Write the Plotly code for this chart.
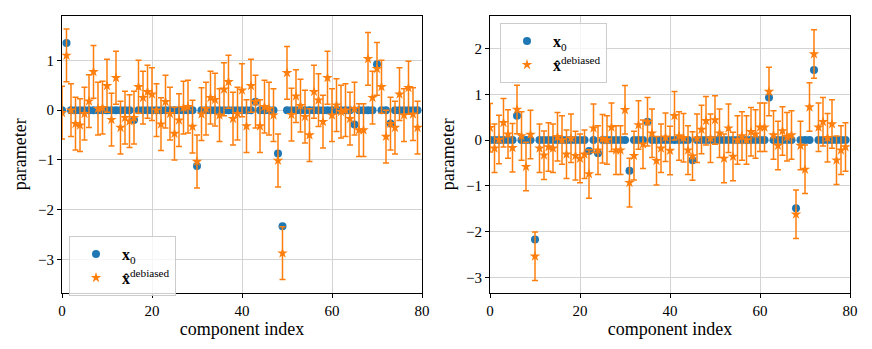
import plotly.graph_objects as go
from plotly.subplots import make_subplots

BLUE = "#1f77b4"
ORANGE = "#ff7f0e"
FONT = "Liberation Serif"

INDEX = list(range(80))

# left panel: true signal (sparse) and debiased estimates
LEFT_X0 = [0.0] * 80
for i, v in {1: 1.35, 16: -0.2, 30: -1.12, 43: 0.17, 48: -0.87, 49: -2.33,
             65: -0.29, 70: 0.92, 73: -0.27}.items():
    LEFT_X0[i] = v

LEFT_DEBIASED = [
    -0.05, 1.1, 0.0, -0.27, -0.3, -0.07, 0.18, 0.77, 0.03, 0.05,
    0.49, -0.19, 0.65, -0.35, -0.15, -0.22, -0.15, 0.47, 0.25, 0.37,
    0.32, 0.0, -0.28, 0.17, -0.07, -0.47, -0.2, 0.05, 0.07, -0.33,
    -1.03, -0.08, 0.03, 0.25, 0.21, -0.1, 0.42, 0.57, -0.17, -0.07,
    0.4, -0.32, 0.49, 0.17, -0.32, 0.07, 0.03, -0.1, -1.01, -2.87,
    0.75, -0.09, 0.28, 0.09, -0.13, -0.5, 0.37, 0.2, -0.23, 0.65,
    -0.1, 0.1, -0.03, 0.0, -0.17, 0.03, -0.4, -0.4, 1.03, 0.25,
    0.83, 0.47, -0.53, -0.27, -0.35, 0.32, -0.1, 0.45, -0.08, -0.35,
]
LEFT_HALF_WIDTH = 0.53

# right panel
RIGHT_X0 = [0.0] * 80
for i, v in {6: 0.53, 10: -2.17, 22: -0.24, 24: -0.29, 31: -0.67, 35: 0.4,
             45: -0.44, 62: 0.93, 68: -1.49, 72: 1.53}.items():
    RIGHT_X0[i] = v

RIGHT_DEBIASED = [
    0.27, -0.18, 0.01, 0.38, 0.13, -0.17, 0.67, 0.09, -0.58, 0.12,
    -2.54, -0.18, -0.33, -0.15, -0.18, 0.07, 0.0, -0.31, 0.04, -0.34,
    -0.4, -0.31, -0.74, 0.26, -0.22, 0.03, 0.0, 0.28, -0.22, -0.22,
    0.66, -0.93, -0.34, 0.33, -0.09, 0.4, 0.15, -0.45, -0.18, 0.06,
    -0.23, 0.53, 0.09, 0.05, -0.22, -0.35, 0.04, 0.23, 0.42, 0.04,
    0.44, 0.15, -0.4, 0.26, -0.36, 0.0, 0.09, 0.0, 0.18, 0.13,
    0.28, 0.28, 1.06, 0.11, -0.12, 0.2, 0.07, 0.11, -1.62, -0.12,
    -0.64, 0.72, 1.88, 0.28, 0.4, 0.05, 0.35, -0.44, -0.22, -0.15,
]
RIGHT_HALF_WIDTH = 0.53

X_TICKS = [0, 20, 40, 60, 80]
LEFT_Y_TICKS = [-3, -2, -1, 0, 1]
RIGHT_Y_TICKS = [-3, -2, -1, 0, 1, 2]

X0_NAME = "<b>x</b><sub>0</sub>"
DEB_NAME = "<b>x̂</b><sup>debiased</sup>"

# the page body has an 8px margin, so the figure is sized to fit the window
W, H, OFF = 864, 341, 8


def fx(px):
    return (px - OFF) / W


def fy(py):
    return 1 - (py - OFF) / H


fig = make_subplots(rows=1, cols=2)

panels = [
    (1, LEFT_X0, LEFT_DEBIASED, LEFT_HALF_WIDTH, "legend"),
    (2, RIGHT_X0, RIGHT_DEBIASED, RIGHT_HALF_WIDTH, "legend2"),
]
for col, x0, deb, hw, leg in panels:
    fig.add_scatter(
        x=INDEX, y=x0, mode="markers", name=X0_NAME, legend=leg,
        marker={"color": BLUE, "size": 8, "symbol": "circle"},
        row=1, col=col,
    )
    fig.add_scatter(
        x=INDEX, y=deb, mode="markers", name=DEB_NAME, legend=leg,
        marker={"color": ORANGE, "size": 8, "symbol": "star"},
        error_y={"type": "constant", "value": hw, "color": ORANGE,
                 "thickness": 1.5, "width": 3},
        row=1, col=col,
    )

axis_style = dict(
    showline=True, linecolor="black", linewidth=1, mirror=True,
    showgrid=True, gridcolor="#d3d3d3", gridwidth=1, zeroline=False,
    ticks="outside", ticklen=4, tickcolor="black", automargin=False,
    tickfont={"family": FONT, "size": 15, "color": "black"},
)

fig.update_xaxes(**axis_style, range=[0, 80], tickvals=X_TICKS,
                 title={"text": "component index", "standoff": 4,
                        "font": {"family": FONT, "size": 18, "color": "black"}})
fig.update_yaxes(**axis_style,
                 title={"text": "parameter", "standoff": 6,
                        "font": {"family": FONT, "size": 18, "color": "black"}})

legend_style = dict(
    xanchor="left", yanchor="top", bgcolor="rgba(255,255,255,0.8)",
    bordercolor="#cccccc", borderwidth=1, itemwidth=42,
    font={"family": FONT, "size": 16, "color": "black"},
)

fig.update_layout(
    xaxis={"domain": [fx(62), fx(422)]},
    xaxis2={"domain": [fx(490), fx(850)]},
    yaxis={"domain": [fy(292.5), fy(16)], "range": [-3.66, 1.89],
           "tickvals": LEFT_Y_TICKS, "ticktext": ["−3", "−2", "−1", "0", "1"]},
    yaxis2={"domain": [fy(292.5), fy(16)], "range": [-3.33, 2.71],
            "tickvals": RIGHT_Y_TICKS,
            "ticktext": ["−3", "−2", "−1", "0", "1", "2"]},
    width=W, height=H,
    margin={"l": 0, "r": 0, "t": 0, "b": 0},
    plot_bgcolor="white", paper_bgcolor="white",
    legend={**legend_style, "x": fx(69), "y": fy(236)},
    legend2={**legend_style, "x": fx(500), "y": fy(23)},
    showlegend=True,
)

fig.write_html("out.html")
